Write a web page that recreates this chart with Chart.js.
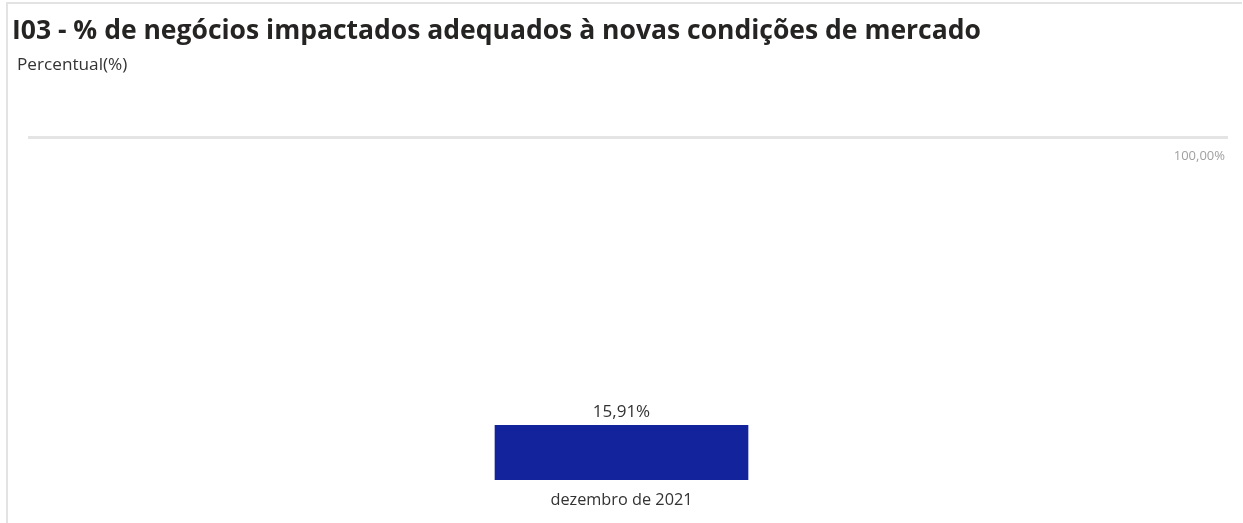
<!DOCTYPE html>
<html>
<head>
<meta charset="utf-8">
<script src="https://cdn.jsdelivr.net/npm/chart.js@4.4.1/dist/chart.umd.min.js"></script>
<style>
  html, body { margin: 0; padding: 0; background: #fff; }
  #wrap { position: relative; width: 1243px; height: 523px; overflow: hidden; }
  #frame { position: absolute; left: 6px; top: 2px; width: 1236px; height: 540px;
           border-top: 2px solid #e3e3e3; border-left: 2px solid #e3e3e3; box-sizing: border-box; }
  #title { position: absolute; left: 12px; top: 13px; font-family: "Open Sans", sans-serif;
           font-weight: 700; font-size: 26.5px; line-height: 32px; color: #252423; white-space: nowrap; }
  #subtitle { position: absolute; left: 17px; top: 53px; font-family: "Open Sans", sans-serif;
           font-size: 17.2px; line-height: 22px; color: #333; white-space: nowrap; }
  #c { position: absolute; left: 0; top: 0; }
</style>
</head>
<body>
<div id="wrap">
  <div id="frame"></div>
  <canvas id="c" width="1243" height="523"></canvas>
  <div id="title">I03 - % de negócios impactados adequados à novas condições de mercado</div>
  <div id="subtitle">Percentual(%)</div>
</div>
<script>
const categories = ["dezembro de 2021"];
const values = [15.91];
const yTicks = [100];

const fmt = v => v.toFixed(2).replace('.', ',') + '%';

const valueLabels = {
  id: 'valueLabels',
  afterDatasetsDraw(chart) {
    const ctx = chart.ctx;
    const meta = chart.getDatasetMeta(0);
    ctx.save();
    ctx.font = '17px "Open Sans", sans-serif';
    ctx.fillStyle = '#333333';
    ctx.textAlign = 'center';
    ctx.textBaseline = 'bottom';
    meta.data.forEach((bar, i) => {
      ctx.fillText(fmt(values[i]), bar.x, bar.y - 5);
    });
    ctx.restore();
  }
};

new Chart(document.getElementById('c'), {
  type: 'bar',
  data: {
    labels: categories,
    datasets: [{
      data: values,
      backgroundColor: '#13239c',
      borderWidth: 0,
      barThickness: 253
    }]
  },
  options: {
    responsive: false,
    animation: false,
    layout: { padding: { left: 28, top: 137, right: 0, bottom: 0 } },
    plugins: { legend: { display: false }, tooltip: { enabled: false } },
    scales: {
      x: {
        grid: { display: false },
        border: { display: false },
        ticks: { color: '#333333', font: { family: '"Open Sans", sans-serif', size: 16.3 }, padding: 3 },
        afterFit(scale) { scale.height = 43; }
      },
      y: {
        position: 'right',
        min: 0, max: 100,
        afterBuildTicks(scale) { scale.ticks = yTicks.map(v => ({ value: v })); },
        grid: { color: '#e4e4e4', lineWidth: 3, drawTicks: true, tickLength: 13, tickColor: '#e4e4e4' },
        border: { display: false },
        ticks: {
          mirror: true, padding: 10, labelOffset: 19,
          color: '#a0a0a0', font: { family: '"Open Sans", sans-serif', size: 13 },
          callback: v => fmt(v)
        },
        afterFit(scale) { scale.width = 28; }
      }
    }
  },
  plugins: [valueLabels]
});
</script>
</body>
</html>
